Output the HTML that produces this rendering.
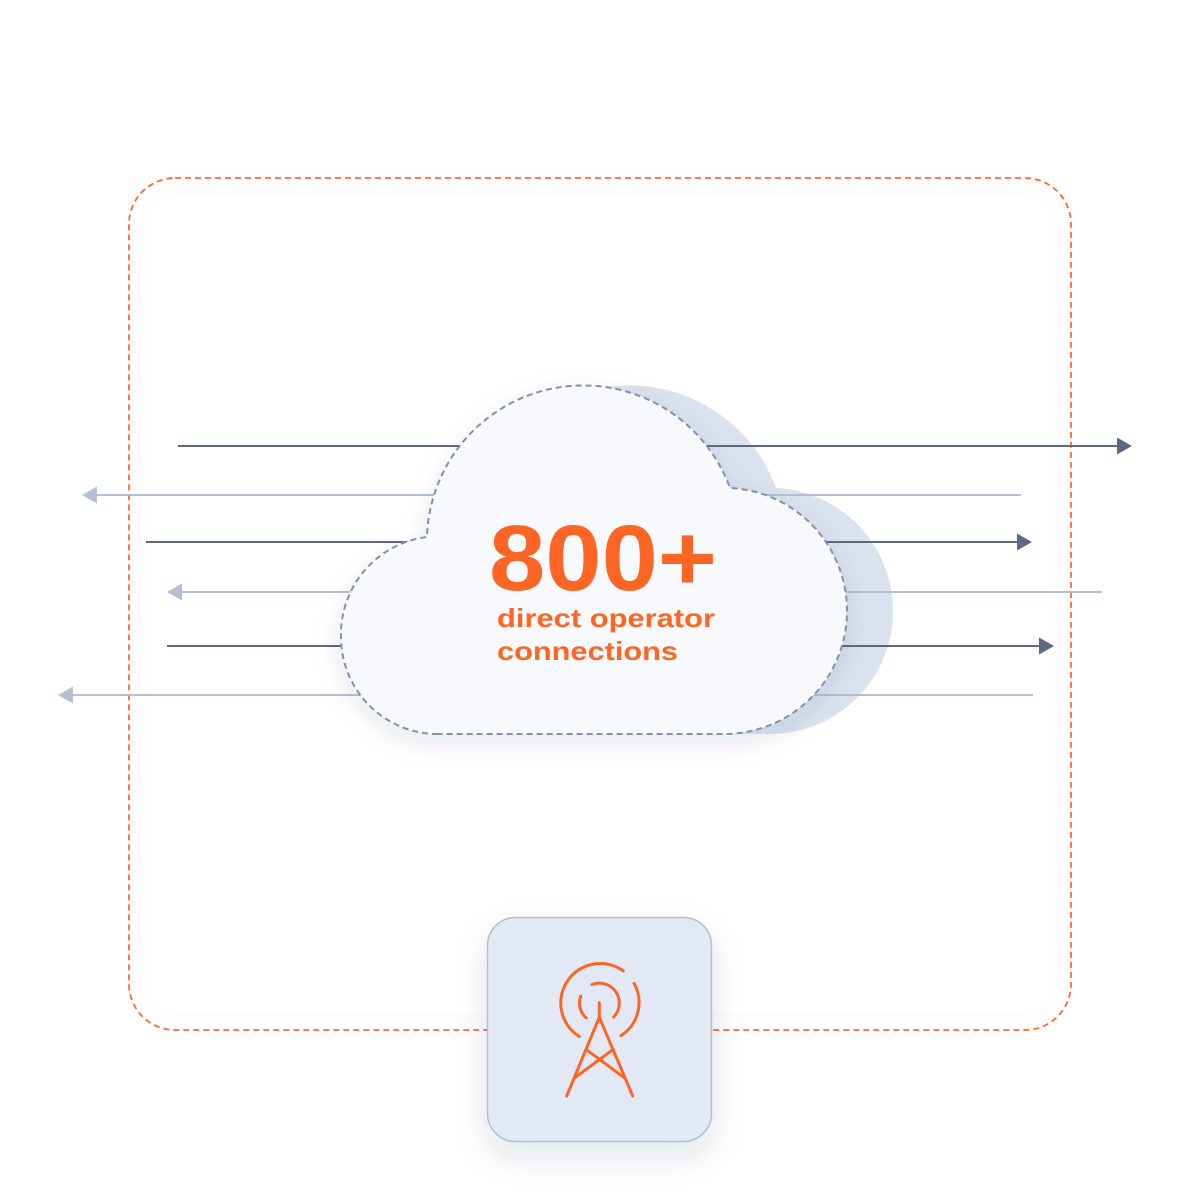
<!DOCTYPE html>
<html>
<head>
<meta charset="utf-8">
<style>
  html,body{margin:0;padding:0;background:#ffffff;}
  svg{display:block;}
</style>
</head>
<body>
<svg width="1200" height="1200" viewBox="0 0 1200 1200" xmlns="http://www.w3.org/2000/svg">
  <defs>
    <filter id="softBand" x="-10%" y="-10%" width="120%" height="120%">
      <feDropShadow dx="0" dy="0" stdDeviation="20" flood-color="#000" flood-opacity="0.02"/>
    </filter>
    <filter id="cloudShadow" x="-20%" y="-20%" width="140%" height="150%">
      <feDropShadow dx="0" dy="8" stdDeviation="13" flood-color="#1c2a44" flood-opacity="0.11"/>
    </filter>
    <filter id="boxShadow" x="-30%" y="-30%" width="160%" height="170%">
      <feDropShadow dx="0" dy="14" stdDeviation="16" flood-color="#1c2a44" flood-opacity="0.12"/>
    </filter>
  </defs>

  <rect x="0" y="0" width="1200" height="1200" fill="#ffffff"/>

  <!-- faint inner band -->
  <rect x="145" y="195" width="910" height="818" rx="36" fill="#ffffff" filter="url(#softBand)"/>

  <!-- orange dashed rounded rectangle -->
  <rect x="129" y="178" width="942" height="852" rx="46" fill="none" stroke="#ff6a2b" stroke-width="1.8" stroke-dasharray="6 4"/>

  <!-- shadow cloud (behind lines) -->
  <path transform="translate(46,0)" d="M 438 734 A 97 97 0 0 1 341 637 A 98 98 0 0 1 427 537 A 156.3 156.3 0 0 1 730 488 A 123 123 0 0 1 847 611 A 123 123 0 0 1 724 734 Z" fill="#dae2ee"/>

  <!-- connector lines -->
  <g stroke-width="2" fill="none">
    <line x1="178" y1="446" x2="1118" y2="446" stroke="#5c6982"/>
    <line x1="96" y1="495" x2="1021" y2="495" stroke="#b4c0d2"/>
    <line x1="146" y1="542" x2="1018" y2="542" stroke="#5c6982"/>
    <line x1="181" y1="592" x2="1102" y2="592" stroke="#b4c0d2"/>
    <line x1="167" y1="646" x2="1040" y2="646" stroke="#5c6982"/>
    <line x1="72" y1="695" x2="1033" y2="695" stroke="#b4c0d2"/>
  </g>
  <!-- arrowheads -->
  <polygon points="1117,437.5 1132,446 1117,454.5" fill="#5c6982"/>
  <polygon points="1017,533.5 1032,542 1017,550.5" fill="#5c6982"/>
  <polygon points="1039,637.5 1054,646 1039,654.5" fill="#5c6982"/>
  <polygon points="97,486.5 82,495 97,503.5" fill="#b4c0d2"/>
  <polygon points="182,583.5 167,592 182,600.5" fill="#b4c0d2"/>
  <polygon points="73,686.5 58,695 73,703.5" fill="#b4c0d2"/>

  <!-- main cloud -->
  <path d="M 438 734 A 97 97 0 0 1 341 637 A 98 98 0 0 1 427 537 A 156.3 156.3 0 0 1 730 488 A 123 123 0 0 1 847 611 A 123 123 0 0 1 724 734 Z" fill="#f7f9fc" filter="url(#cloudShadow)"/>
  <path d="M 438 734 A 97 97 0 0 1 341 637 A 98 98 0 0 1 427 537 A 156.3 156.3 0 0 1 730 488 A 123 123 0 0 1 847 611 A 123 123 0 0 1 724 734 Z" fill="none" stroke="#8591a7" stroke-width="2" stroke-dasharray="6 4"/>

  <!-- cloud text -->
  <text x="489" y="590" font-family="'Liberation Sans', Arial, sans-serif" font-weight="bold" font-size="93" fill="#fd6524" textLength="228" lengthAdjust="spacingAndGlyphs">800+</text>
  <text x="497" y="627" font-family="'Liberation Sans', Arial, sans-serif" font-weight="bold" font-size="26" fill="#fd6524" textLength="218" lengthAdjust="spacingAndGlyphs">direct operator</text>
  <text x="497" y="660" font-family="'Liberation Sans', Arial, sans-serif" font-weight="bold" font-size="26" fill="#fd6524" textLength="181" lengthAdjust="spacingAndGlyphs">connections</text>

  <!-- tower box -->
  <rect x="487.5" y="917.5" width="224" height="224" rx="28" fill="#e2e9f4" stroke="#b3bed0" stroke-width="1.5" filter="url(#boxShadow)"/>

  <!-- tower icon -->
  <g fill="none" stroke="#fd6524" stroke-width="3" stroke-linecap="round" stroke-linejoin="round">
    <path d="M 579.2 1036.4 A 39.5 39.5 0 1 1 623.3 970.9"/>
    <path d="M 634.1 983.3 A 39.5 39.5 0 0 1 621 1035.6"/>
    <path d="M 586.1 1017.9 A 20 20 0 0 1 580.7 996.2"/>
    <path d="M 592 984.5 A 20 20 0 0 1 613.6 1017.1"/>
    <path d="M 599.3 1002.7 L 599.3 1017.3"/>
    <path d="M 566.7 1096 L 599.3 1017.3 L 632.7 1096"/>
    <path d="M 586 1049.3 L 625 1078.3"/>
    <path d="M 613.3 1049.3 L 574 1078.3"/>
  </g>
</svg>
</body>
</html>
